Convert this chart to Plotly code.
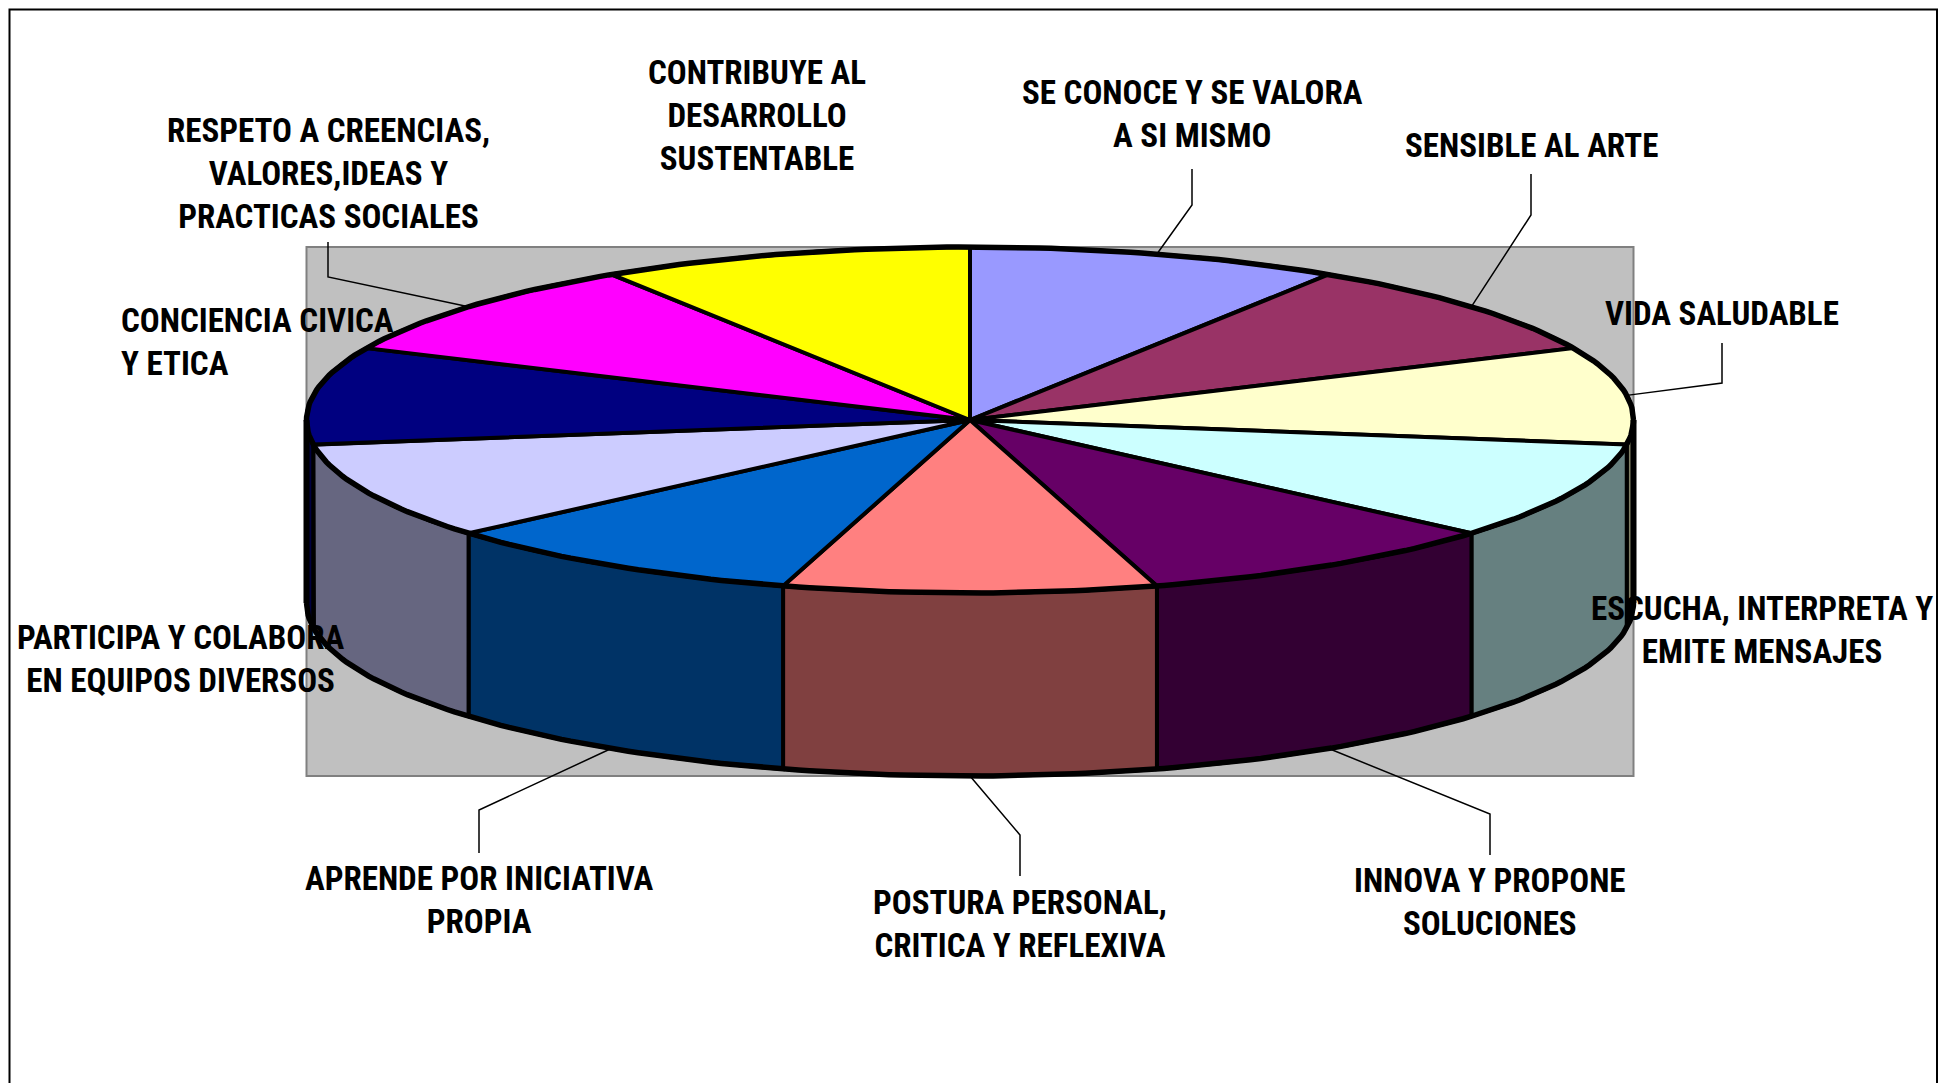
import numpy as np
import plotly.graph_objects as go

# ---------------- data ----------------
categories = [
    "SE CONOCE Y SE VALORA<br>A SI MISMO",
    "SENSIBLE AL ARTE",
    "VIDA SALUDABLE",
    "ESCUCHA, INTERPRETA Y<br>EMITE MENSAJES",
    "INNOVA Y PROPONE<br>SOLUCIONES",
    "POSTURA PERSONAL,<br>CRITICA Y REFLEXIVA",
    "APRENDE POR INICIATIVA<br>PROPIA",
    "PARTICIPA Y COLABORA<br>EN EQUIPOS DIVERSOS",
    "CONCIENCIA CIVICA<br>Y ETICA",
    "RESPETO A CREENCIAS,<br>VALORES,IDEAS Y<br>PRACTICAS SOCIALES",
    "CONTRIBUYE AL<br>DESARROLLO<br>SUSTENTABLE",
]
values = [1, 1, 1, 1, 1, 1, 1, 1, 1, 1, 1]
colors = ["#9999FF", "#993366", "#FFFFCC", "#CCFFFF", "#660066", "#FF8080",
          "#0066CC", "#CCCCFF", "#000080", "#FF00FF", "#FFFF00"]

# ---------------- layout / geometry (page pixels) ----------------
W, H = 1949, 1091
BODY = 8                   # default page body margin
CX, CY = 970.0, 420.0      # centre of the top face
RA, RB = 663.5, 173.0      # ellipse semi-axes
DEPTH = 183.0              # thickness of the pie

# label placement: (x, y, xanchor, align, elbow_y, line_end_y) ; None = no leader
label_pos = [
    (1192, 114, "center", "center", 205, 169),
    (1531, 145, "center", "center", 215, 174),
    (1722, 313, "center", "center", 383, 343),
    (1762, 630, "center", "center", None, None),
    (1490, 902, "center", "center", 814, 855),
    (1020, 924, "center", "center", 835, 876),
    (479, 900, "center", "center", 810, 853),
    (181, 659, "center", "center", None, None),
    (119, 342, "left", "left", None, None),
    (328, 173, "center", "center", 277, 242),
    (757, 115, "center", "center", None, None),
]

FONT = "Liberation Sans Narrow, Arial Narrow, Roboto Condensed, Liberation Sans, sans-serif"


def half(c):
    r, g, b = int(c[1:3], 16), int(c[3:5], 16), int(c[5:7], 16)
    return "#%02X%02X%02X" % (round(r / 2), round(g / 2), round(b / 2))


def ell(t):
    t = np.radians(t)
    return CX + RA * np.cos(t), CY - RB * np.sin(t)


total = float(sum(values))
cum = np.concatenate([[0.0], np.cumsum(values)])
starts = 90 - 360 * cum[:-1] / total
ends = 90 - 360 * cum[1:] / total

fig = go.Figure()

# side faces (visible front half: angles between -180 and 0)
for k in range(len(values)):
    hi = min(starts[k], 0.0)
    lo = max(ends[k], -180.0)
    if lo >= hi:
        continue
    t = np.linspace(hi, lo, 80)
    x, y = ell(t)
    xs = np.concatenate([x, x[::-1], [x[0]]])
    ys = np.concatenate([y, y[::-1] + DEPTH, [y[0]]])
    fig.add_trace(go.Scatter(x=xs, y=ys, mode="lines", fill="toself",
                             fillcolor=half(colors[k]),
                             line=dict(color="black", width=4),
                             hoverinfo="skip", showlegend=False))

# top faces
for k in range(len(values)):
    t = np.linspace(starts[k], ends[k], 80)
    x, y = ell(t)
    xs = np.concatenate([[CX], x, [CX]])
    ys = np.concatenate([[CY], y, [CY]])
    fig.add_trace(go.Scatter(x=xs, y=ys, mode="lines", fill="toself",
                             fillcolor=colors[k],
                             line=dict(color="black", width=4),
                             hoverinfo="skip", showlegend=False,
                             name=categories[k].replace("<br>", " ")))

# heavier outline of the top rim and the bottom front rim
tt = np.linspace(0, 360, 361)
ex, ey = ell(tt)
fig.add_trace(go.Scatter(x=ex, y=ey, mode="lines", line=dict(color="black", width=5.5),
                         hoverinfo="skip", showlegend=False))
tb = np.linspace(-180, 0, 181)
bx, by = ell(tb)
fig.add_trace(go.Scatter(x=bx, y=by + DEPTH, mode="lines", line=dict(color="black", width=5.5),
                         hoverinfo="skip", showlegend=False))

# outer vertical edges
for t0 in (0.0, 180.0):
    x, y = ell(t0)
    fig.add_trace(go.Scatter(x=[x, x], y=[y, y + DEPTH], mode="lines",
                             line=dict(color="black", width=6),
                             hoverinfo="skip", showlegend=False))

# leader lines and labels
for k in range(len(values)):
    lx, ly, xa, al, elbow, lend = label_pos[k]
    if elbow is not None:
        mid = (starts[k] + ends[k]) / 2
        ax, ay = ell(mid)
        if np.sin(np.radians(mid)) < 0:
            ay = ay + DEPTH
        fig.add_trace(go.Scatter(x=[ax, lx, lx], y=[ay, elbow, lend], mode="lines",
                                 line=dict(color="black", width=1.5),
                                 hoverinfo="skip", showlegend=False))
    fig.add_annotation(x=lx, y=ly, xref="x", yref="y", text="<b>" + categories[k] + "</b>",
                       showarrow=False, xanchor=xa, yanchor="middle", align=al,
                       font=dict(family=FONT, size=33, color="black"))

# plot-area background (bounding box of the pie) and outer frame
fig.add_shape(type="rect", x0=CX - RA, x1=CX + RA, y0=CY - RB, y1=CY + RB + DEPTH,
              xref="x", yref="y", fillcolor="#C0C0C0",
              line=dict(color="#808080", width=2), layer="below")
fig.add_shape(type="rect", x0=BODY + 1.5, x1=1937, y0=BODY + 1.5, y1=1200, xref="x", yref="y",
              line=dict(color="black", width=2), fillcolor="rgba(0,0,0,0)", layer="below")

fig.update_layout(
    width=W - 2 * BODY, height=H - 2 * BODY, margin=dict(l=0, r=0, t=0, b=0),
    paper_bgcolor="white", plot_bgcolor="white",
    xaxis=dict(range=[BODY, W - BODY], visible=False, fixedrange=True),
    yaxis=dict(range=[H - BODY, BODY], visible=False, fixedrange=True),
    showlegend=False,
)

fig.write_html("out.html")
